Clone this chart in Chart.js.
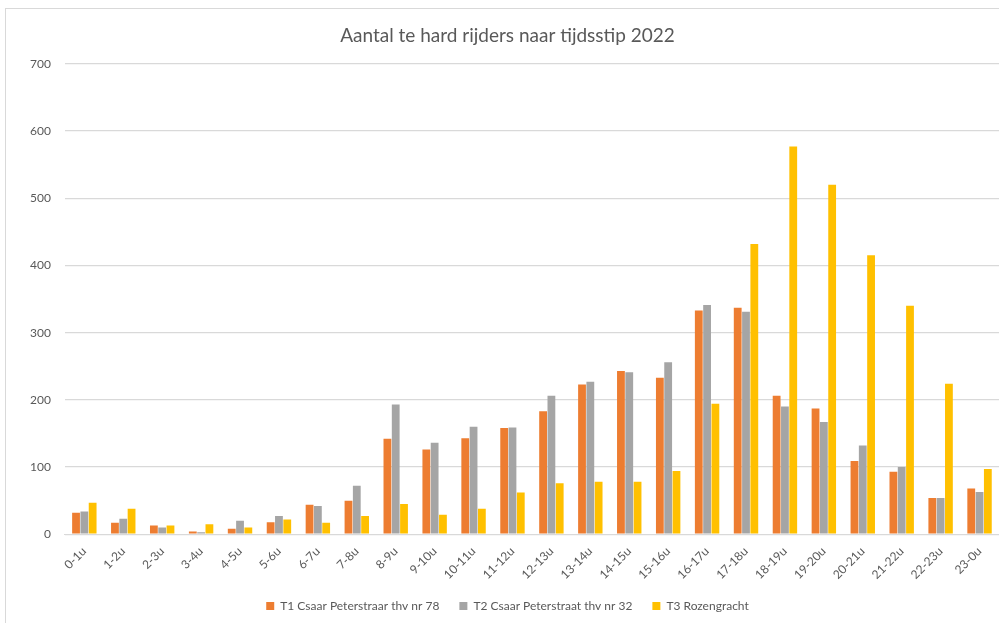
<!DOCTYPE html>
<html>
<head>
<meta charset="utf-8">
<script src="https://cdn.jsdelivr.net/npm/chart.js@4/dist/chart.umd.min.js"></script>
<style>
  html, body { margin: 0; padding: 0; background: #fff; overflow: hidden; }
  #frame { position: absolute; left: 5px; top: 8px; width: 1200px; height: 800px; border: 1px solid #d9d9d9; }
  #wrap { position: absolute; left: 0; top: 0; width: 999px; height: 623px; }
</style>
</head>
<body>
<div id="frame"></div>
<div id="wrap"><canvas id="chart"></canvas></div>
<script>
// categorieën en waarden
const hours = ['0-1u','1-2u','2-3u','3-4u','4-5u','5-6u','6-7u','7-8u','8-9u','9-10u','10-11u','11-12u',
               '12-13u','13-14u','14-15u','15-16u','16-17u','17-18u','18-19u','19-20u','20-21u','21-22u','22-23u','23-0u'];
const t1 = [32, 17, 13, 4, 8, 18, 44, 50, 142, 126, 143, 158, 183, 223, 243, 233, 333, 337, 206, 187, 109, 93, 54, 68];
const t2 = [34, 23, 10, 3, 20, 27, 42, 72, 193, 136, 160, 159, 206, 227, 241, 256, 341, 331, 190, 167, 132, 100, 54, 63];
const t3 = [47, 38, 13, 15, 10, 22, 17, 27, 45, 29, 38, 62, 76, 78, 78, 94, 194, 432, 577, 520, 415, 340, 224, 97];
const yTicksMax = 700;

const FONT = 'Lato, "Open Sans", sans-serif';
const TXT = '#595959';

new Chart(document.getElementById('chart'), {
  type: 'bar',
  data: {
    labels: hours,
    datasets: [
      { label: 'T1 Csaar Peterstraar thv nr 78', data: t1, backgroundColor: '#ED7D31' },
      { label: 'T2 Csaar Peterstraat thv nr 32', data: t2, backgroundColor: '#A5A5A5' },
      { label: 'T3 Rozengracht', data: t3, backgroundColor: '#FFC000' }
    ]
  },
  options: {
    responsive: true,
    maintainAspectRatio: false,
    animation: false,
    datasets: { bar: { categoryPercentage: 0.64, barPercentage: 0.94, borderWidth: 0 } },
    layout: { padding: { left: 16, right: 0, top: 0, bottom: 1 } },
    plugins: {
      title: {
        display: true,
        text: 'Aantal te hard rijders naar tijdsstip 2022',
        color: TXT,
        font: { family: FONT, size: 19, weight: 'normal' },
        padding: { top: 24, bottom: 17 }
      },
      legend: {
        position: 'bottom',
        labels: { color: TXT, font: { family: FONT, size: 12 }, boxWidth: 8, boxHeight: 8, padding: 20 }
      },
      tooltip: { enabled: false }
    },
    scales: {
      x: {
        grid: { display: false },
        border: { color: '#d9d9d9', width: 1 },
        ticks: { color: TXT, font: { family: FONT, size: 12 }, minRotation: 45, maxRotation: 45, padding: 2 },
        afterFit: (axis) => { axis.height -= 4; }
      },
      y: {
        min: 0,
        max: yTicksMax,
        grid: { color: '#d9d9d9', lineWidth: 1.3, drawTicks: false },
        border: { display: false },
        ticks: { stepSize: 100, color: TXT, font: { family: FONT, size: 12 }, padding: 14 }
      }
    }
  }
});
</script>
</body>
</html>
